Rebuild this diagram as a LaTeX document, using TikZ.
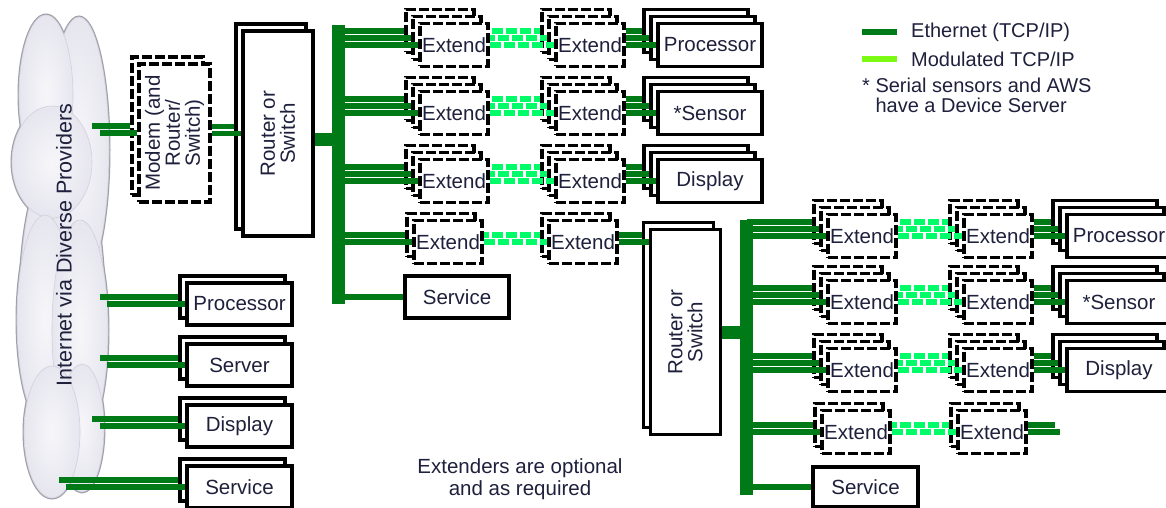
\documentclass[tikz,border=0pt]{standalone}
\usepackage{fontspec}
\setmainfont{Liberation Sans}
\usepackage{xcolor}
\usepackage{tikz}
\usetikzlibrary{positioning}

\definecolor{ethgreen}{RGB}{0,122,22}
\definecolor{modgreen}{RGB}{0,252,105}
\definecolor{keygreen}{RGB}{125,250,20}
\definecolor{ink}{RGB}{30,32,60}
\definecolor{cloudbase}{RGB}{216,215,228}
\definecolor{cloudedge}{RGB}{160,160,170}
\definecolor{cloudseam}{RGB}{209,208,221}
\definecolor{cloudlight}{RGB}{246,246,250}
\colorlet{cloudmid}{cloudlight!50!cloudbase}

\pgfdeclareradialshading{lobe}{\pgfpoint{0bp}{0bp}}{color(0bp)=(cloudlight); color(24bp)=(cloudmid); color(48bp)=(cloudbase); color(50bp)=(cloudbase)}

\tikzset{
	unitbox/.style={draw=black, line width=3.2pt, fill=white, inner sep=0pt, text=ink, font=\fontsize{20.5pt}{20pt}\selectfont},
	extbox/.style={unitbox, dash pattern=on 10pt off 3pt, minimum width=68pt, minimum height=43pt},
	devbox/.style={unitbox, minimum width=104pt, minimum height=43pt},
	lowbox/.style={unitbox, minimum width=105pt, minimum height=42pt},
	modembox/.style={unitbox, dash pattern=on 10pt off 3pt, minimum width=71pt, minimum height=138pt},
	routerbox/.style={unitbox, minimum width=70pt, minimum height=205pt},
	txt/.style={text=ink, font=\fontsize{20.5pt}{20pt}\selectfont, align=center, inner sep=0pt},
	eth/.style={ethgreen, line width=5.2pt},
	mod/.style={modgreen, line width=5.5pt, dash pattern=on 11pt off 3pt},
	bus/.style={ethgreen, line width=13pt},
}

\newcommand{\Device}[6][devbox]{%
	\foreach \i in {#3,...,2}{\node[#1] (#2-\i) at ({#4-7*(\i-1)},{#5-7*(\i-1)}) {};}
	\node[#1] (#2-1) at (#4,#5) {#6};
}

\begin{document}
\begin{tikzpicture}[x=1pt, y=-1pt]
	\useasboundingbox (0,0) rectangle (1166,508);
	\clip (0,0) rectangle (1166,508);

	\foreach \cx/\cy/\rx/\ry in {62/300/42/150, 79/150/30/133, 46/95/27/80, 52/162/40/56, 45/320/28/105, 80/330/28/110, 82/428/22/64, 52/432/28/66}
		\draw[cloudedge, line width=3pt] (\cx,\cy) ellipse [x radius=\rx pt, y radius=\ry pt];
	\foreach \cx/\cy/\rx/\ry in {62/300/42/150, 79/150/30/133, 46/95/27/80, 52/162/40/56, 45/320/28/105, 80/330/28/110, 82/428/22/64, 52/432/28/66}
		\shade[shading=lobe, draw=cloudseam, line width=0.6pt] (\cx,\cy) ellipse [x radius=\rx pt, y radius=\ry pt];
	\node[txt, rotate=90, font=\fontsize{21.5pt}{21pt}\selectfont] (inet) at (64,245) {Internet via Diverse Providers};

	\Device[modembox]{mdm}{2}{174.5}{133}{}
	\node[txt, rotate=90] (mdm-t) at (mdm-1) {Modem (and\\Router/\\Switch)};
	\Device[routerbox]{rt1}{2}{278}{133.5}{}
	\node[txt, rotate=90] (rt1-t) at (rt1-1) {Router or\\Switch};
	\Device[routerbox]{rt2}{2}{685.5}{332}{}
	\node[txt, rotate=90] (rt2-t) at (rt2-1) {Router or\\Switch};

	\Device[extbox]{ta1}{3}{454}{45}{Extend}
	\Device[extbox]{tb1}{3}{590}{45}{Extend}
	\Device{tc1}{3}{710}{45}{Processor}
	\Device[extbox]{ta2}{3}{454}{113}{Extend}
	\Device[extbox]{tb2}{3}{590}{113}{Extend}
	\Device{tc2}{3}{710}{113}{*Sensor}
	\Device[extbox]{ta3}{3}{454}{181}{Extend}
	\Device[extbox]{tb3}{3}{590}{181}{Extend}
	\Device{tc3}{3}{710}{181}{Display}
	\Device[extbox]{ta4}{2}{448}{242}{Extend}
	\Device[extbox]{tb4}{2}{583}{242}{Extend}
	\node[devbox, minimum height=42pt] (ts) at (457,297) {Service};

	\Device[extbox]{ra1}{3}{862}{236}{Extend}
	\Device[extbox]{rb1}{3}{998}{236}{Extend}
	\Device{rc1}{3}{1119}{236}{Processor}
	\Device[extbox]{ra2}{3}{862}{302}{Extend}
	\Device[extbox]{rb2}{3}{998}{302}{Extend}
	\Device{rc2}{3}{1119}{302}{*Sensor}
	\Device[extbox]{ra3}{3}{862}{370}{Extend}
	\Device[extbox]{rb3}{3}{998}{370}{Extend}
	\Device{rc3}{3}{1119}{370}{Display}
	\Device[extbox]{ra4}{2}{856}{432}{Extend}
	\Device[extbox]{rb4}{2}{992}{432}{Extend}
	\node[devbox, minimum width=105pt, minimum height=40pt] (rs) at (865.5,487) {Service};

	\Device[lowbox]{lp}{2}{239.5}{304}{Processor}
	\Device[lowbox]{ls}{2}{239.5}{365}{Server}
	\Device[lowbox]{ld}{2}{239.5}{426}{Display}
	\Device[lowbox]{lv}{2}{239.5}{487}{Service}

	\coordinate (b1t) at (338.5,25);
	\coordinate (b1b) at (338.5,304);
	\coordinate (b2t) at (746.5,220);
	\coordinate (b2b) at (746.5,495);

	\foreach \n/\xa/\xb in {mdm/92/100, lp/100/107, ls/100/107, ld/92/100, lv/59/66}{
		\coordinate (\n-in2) at (\xa,0);
		\coordinate (\n-in1) at (\xb,0);
		\draw[eth] (\n-in2 |- \n-2.west) -- (\n-2.west);
		\draw[eth] (\n-in1 |- \n-1.west) -- (\n-1.west);
	}
	\draw[eth] (mdm-1.east |- rt1-2.west) -- (rt1-2.west);
	\draw[eth] (mdm-1.east |- rt1-1.west) -- (rt1-1.west);

	\foreach \r in {1,2,3}{
		\foreach \i/\p in {1/0,2/6,3/12}{
			\draw[eth] (b1t |- ta\r-\i.west) -- (ta\r-\i.west);
			\draw[mod, dash phase=\p pt] (ta\r-1.east |- tb\r-\i.west) -- (tb\r-\i.west);
			\draw[eth] (tb\r-1.east |- tc\r-\i.west) -- (tc\r-\i.west);
			\draw[eth] (b2t |- ra\r-\i.west) -- (ra\r-\i.west);
			\draw[mod, dash phase=\p pt] (ra\r-1.east |- rb\r-\i.west) -- (rb\r-\i.west);
			\draw[eth] (rb\r-1.east |- rc\r-\i.west) -- (rc\r-\i.west);
		}
	}
	\foreach \i/\p in {1/0,2/6}{
		\draw[eth] (b1t |- ta4-\i.west) -- (ta4-\i.west);
		\draw[mod, dash phase=\p pt] (ta4-1.east |- tb4-\i.west) -- (tb4-\i.west);
		\draw[eth] (b2t |- ra4-\i.west) -- (ra4-\i.west);
		\draw[mod, dash phase=\p pt] (ra4-1.east |- rb4-\i.west) -- (rb4-\i.west);
	}
	\draw[eth] (tb4-1.east |- tb4-2.west) -- (rt2-2.west |- tb4-2.west);
	\draw[eth] (tb4-1.east) -- (tb4-1.east -| rt2-1.west);
	\coordinate (rx2) at (1055,425);
	\coordinate (rx1) at (1060,432);
	\draw[eth] (rb4-1.east |- rx2) -- (rx2);
	\draw[eth] (rb4-1.east |- rx1) -- (rx1);

	\draw[eth] (b1t |- ts.west) -- (ts.west);
	\draw[eth] (b2t |- rs.west) -- (rs.west);
	\coordinate (rt1-out) at ([yshift=-6pt]rt1-1.east);
	\draw[bus] (rt1-out) -- (rt1-out -| b1t);
	\draw[bus] (rt2-1.east) -- (rt2-1.east -| b2t);
	\draw[bus] (b1t) -- (b1b);
	\draw[bus] (b2t) -- (b2b);

	\coordinate (k1a) at (862,32);
	\coordinate (k1b) at (897,32);
	\draw[ethgreen, line width=6pt] (k1a) -- (k1b);
	\node[txt, anchor=west, font=\fontsize{20pt}{20pt}\selectfont] (k1) at (911,32) {Ethernet (TCP/IP)};
	\coordinate (k2a) at (862,59);
	\coordinate (k2b) at (897,59);
	\draw[keygreen, line width=6pt] (k2a) -- (k2b);
	\node[txt, anchor=west, font=\fontsize{20pt}{20pt}\selectfont] (k2) at (911,59) {Modulated TCP/IP};
	\node[txt, anchor=west, align=left, font=\fontsize{20pt}{20pt}\selectfont] (k3) at (862,95) {* Serial sensors and AWS\\\phantom{* }have a Device Server};

	\node[txt, font=\fontsize{20.5pt}{22pt}\selectfont] (xnote) at (520,479) {Extenders are optional\\and as required};
\end{tikzpicture}
\end{document}
